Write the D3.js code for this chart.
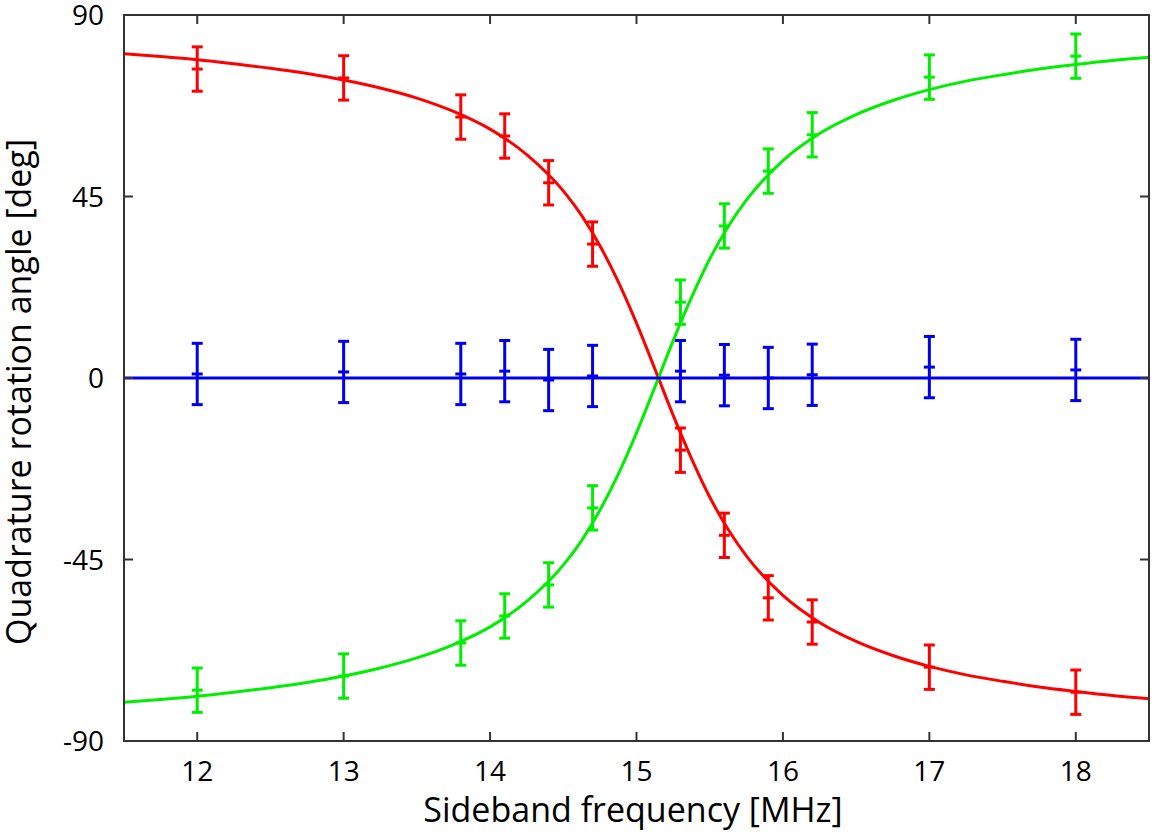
<!DOCTYPE html>
<html>
<head>
<meta charset="utf-8">
<script src="https://cdn.jsdelivr.net/npm/d3@7"></script>
<style>
  body { margin: 0; background: #fff; }
  text { font-family: "Open Sans", "Noto Sans", sans-serif; fill: #000; }
</style>
</head>
<body>
<script>
// measured frequencies [MHz]
var freqs = [12, 13, 13.8, 14.1, 14.4, 14.7, 15.3, 15.6, 15.9, 16.2, 17, 18];
var redVals   = [76.6, 74.4, 64.7, 60.0, 48.4, 33.2, -17.9, -39.0, -54.5, -60.5, -71.7, -77.9];
var greenVals = [-77.4, -73.9, -65.7, -59.0, -51.3, -32.2, 18.8, 37.7, 51.3, 60.3, 74.6, 79.8];
var blueVals  = [1.0, 1.5, 1.0, 1.7, -0.5, 0.5, 1.7, 0.7, 0.0, 0.8, 2.7, 2.0];
var redErr = 5.5, greenErr = 5.5, blueErr = 7.6;

// fitted curves
var fitFreqs = [11.5, 11.75, 12, 12.25, 12.5, 12.75, 13, 13.25, 13.5, 13.75, 14, 14.25, 14.5, 14.625,
  14.75, 14.875, 15, 15.125, 15.25, 15.375, 15.5, 15.625, 15.75, 16, 16.25, 16.5, 16.75, 17,
  17.25, 17.5, 17.75, 18, 18.25, 18.5];
var redFit = [80.4, 79.7, 78.9, 77.9, 76.8, 75.5, 73.9, 71.9, 69.4, 66.1, 61.7, 55.4, 46.4, 40.3,
  32.8, 23.9, 13.6, 2.3, -9.2, -19.9, -29.5, -37.5, -44.1, -53.9, -60.6, -65.3, -68.8, -71.5,
  -73.6, -75.2, -76.6, -77.7, -78.7, -79.5];
var greenFit = [-80.4, -79.7, -78.9, -77.9, -76.8, -75.5, -73.9, -71.9, -69.4, -66.1, -61.7, -55.4, -46.4, -40.3,
  -32.8, -23.9, -13.6, -2.3, 9.2, 19.9, 29.5, 37.5, 44.1, 53.9, 60.6, 65.3, 68.8, 71.5,
  73.6, 75.2, 76.6, 77.7, 78.7, 79.5];
var blueFit = [0, 0];
var blueFitFreqs = [11.5, 18.5];

var xTicks = [12, 13, 14, 15, 16, 17, 18];
var yTicks = [-90, -45, 0, 45, 90];

var width = 1152, height = 839;
var m = {left: 124, right: 3, top: 15, bottom: 98};
var iw = width - m.left - m.right, ih = height - m.top - m.bottom;

var svg = d3.select("body").append("svg").attr("width", width).attr("height", height);
var g = svg.append("g").attr("transform", "translate(" + m.left + "," + m.top + ")");

var x = d3.scaleLinear().domain([11.5, 18.5]).range([0, iw]);
var y = d3.scaleLinear().domain([-90, 90]).range([ih, 0]);

var clip = svg.append("defs").append("clipPath").attr("id", "clip");
clip.append("rect").attr("width", iw).attr("height", ih);

var series = [
  {color: "#ff0000", vals: redVals, err: redErr, fx: fitFreqs, fy: redFit},
  {color: "#00ee00", vals: greenVals, err: greenErr, fx: fitFreqs, fy: greenFit},
  {color: "#0000ee", vals: blueVals, err: blueErr, fx: blueFitFreqs, fy: blueFit}
];

var line = d3.line().x(function(d) { return x(d[0]); }).y(function(d) { return y(d[1]); })
  .curve(d3.curveMonotoneX);

var plot = g.append("g").attr("clip-path", "url(#clip)");

series.forEach(function(s) {
  plot.append("path")
    .datum(d3.zip(s.fx, s.fy))
    .attr("d", line)
    .attr("fill", "none")
    .attr("stroke", s.color)
    .attr("stroke-width", 3);

  var pts = d3.zip(freqs, s.vals);
  var eb = plot.append("g").attr("stroke", s.color).attr("stroke-width", 3).attr("fill", "none");
  eb.selectAll(".v").data(pts).enter().append("line")
    .attr("x1", function(d) { return x(d[0]); }).attr("x2", function(d) { return x(d[0]); })
    .attr("y1", function(d) { return y(d[1] + s.err); }).attr("y2", function(d) { return y(d[1] - s.err); });
  [s.err, -s.err, 0].forEach(function(off) {
    eb.selectAll(null).data(pts).enter().append("line")
      .attr("x1", function(d) { return x(d[0]) - 5.5; }).attr("x2", function(d) { return x(d[0]) + 5.5; })
      .attr("y1", function(d) { return y(d[1] + off); }).attr("y2", function(d) { return y(d[1] + off); });
  });
});

// frame and inward ticks
var axes = g.append("g").attr("stroke", "#333").attr("stroke-width", 2);
axes.selectAll(".xt").data(xTicks).enter().append("line")
  .attr("x1", x).attr("x2", x).attr("y1", ih).attr("y2", ih - 9);
axes.selectAll(".xt2").data(xTicks).enter().append("line")
  .attr("x1", x).attr("x2", x).attr("y1", 0).attr("y2", 9);
axes.selectAll(".yt").data(yTicks).enter().append("line")
  .attr("y1", y).attr("y2", y).attr("x1", 0).attr("x2", 9);
axes.selectAll(".yt2").data(yTicks).enter().append("line")
  .attr("y1", y).attr("y2", y).attr("x1", iw).attr("x2", iw - 9);
axes.append("rect").attr("width", iw).attr("height", ih).attr("fill", "none");

g.selectAll(".xl").data(xTicks).enter().append("text")
  .attr("x", x).attr("y", ih + 40)
  .attr("text-anchor", "middle").style("font-size", "28px")
  .text(function(d) { return d; });
g.selectAll(".yl").data(yTicks).enter().append("text")
  .attr("x", -20).attr("y", function(d) { return y(d) + 10; })
  .attr("text-anchor", "end").style("font-size", "28px")
  .text(function(d) { return d; });

svg.append("text")
  .attr("x", 633).attr("y", 822)
  .attr("text-anchor", "middle").style("font-size", "34px")
  .text("Sideband frequency [MHz]");
svg.append("text")
  .attr("transform", "translate(31,392) rotate(-90)")
  .attr("text-anchor", "middle").style("font-size", "34px")
  .text("Quadrature rotation angle [deg]");
</script>
</body>
</html>
